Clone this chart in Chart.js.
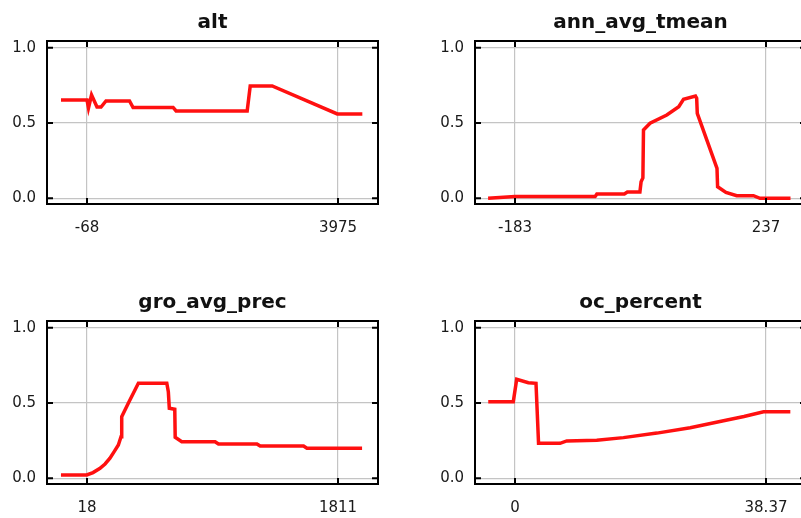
<!DOCTYPE html>
<html>
<head>
<meta charset="utf-8">
<script src="https://cdn.jsdelivr.net/npm/chart.js@4.4.0/dist/chart.umd.min.js"></script>
<style>
  body { margin: 0; width: 801px; height: 518px; overflow: hidden; background: #fff; position: relative; }
  canvas { position: absolute; }
</style>
</head>
<body>
<canvas id="c1" width="425" height="250" style="left:0;top:0"></canvas>
<canvas id="c2" width="425" height="250" style="left:428px;top:0"></canvas>
<canvas id="c3" width="425" height="250" style="left:0;top:280px"></canvas>
<canvas id="c4" width="425" height="250" style="left:428px;top:280px"></canvas>
<script>
// response curves
const altX = [-487, -68, -44, 5, 93, 158, 238, 617, 674, 1319, 1367, 2512, 2561, 2915, 3963, 4367];
const altY = [0.653, 0.653, 0.600, 0.686, 0.606, 0.606, 0.646, 0.646, 0.603, 0.603, 0.580, 0.580, 0.746, 0.746, 0.560, 0.560];
const altTicks = [-68, 3975];

const annX = [-228, -183, -49, -46, 0, 5, 26, 28, 31, 32, 43, 71, 91, 99, 119, 121, 122, 155, 156, 170, 188, 216, 227, 278];
const annY = [0.0, 0.011, 0.011, 0.029, 0.029, 0.042, 0.042, 0.110, 0.135, 0.454, 0.498, 0.553, 0.608, 0.657, 0.679, 0.665, 0.564, 0.199, 0.077, 0.039, 0.017, 0.017, 0.0, 0.0];
const annTicks = [-183, 237];

const groX = [-168, 16, 61, 111, 147, 182, 211, 242, 261, 266, 313, 385, 588, 599, 606, 645, 648, 695, 933, 957, 1232, 1255, 1565, 1589, 1983];
const groY = [0.022, 0.022, 0.038, 0.066, 0.095, 0.133, 0.175, 0.221, 0.276, 0.409, 0.498, 0.631, 0.631, 0.575, 0.465, 0.458, 0.272, 0.243, 0.243, 0.228, 0.228, 0.214, 0.214, 0.199, 0.199];
const groTicks = [18, 1811];

const ocX = [-4.09, -0.26, 0.26, 2.04, 3.21, 3.6, 6.89, 7.91, 12.5, 16.58, 21.69, 26.78, 31.88, 35.0, 38.0, 42.09];
const ocY = [0.509, 0.509, 0.657, 0.635, 0.631, 0.232, 0.232, 0.248, 0.252, 0.270, 0.300, 0.336, 0.382, 0.410, 0.442, 0.442];
const ocTicks = [0, 38.37];

const yTicks = [0, 0.5, 1.0];

// black box round the plot with short inward tick marks
const frame = {
    id: 'frame',
    afterDatasetsDraw(chart) {
        const {ctx, chartArea: a, scales: {x, y}} = chart;
        const len = 6;
        ctx.save();
        ctx.strokeStyle = '#000';
        ctx.lineWidth = 2;
        ctx.strokeRect(a.left, a.top, a.right - a.left, a.bottom - a.top);
        ctx.beginPath();
        x.ticks.forEach(t => {
            const px = x.getPixelForValue(t.value);
            ctx.moveTo(px, a.top); ctx.lineTo(px, a.top + len);
            ctx.moveTo(px, a.bottom); ctx.lineTo(px, a.bottom - len);
        });
        y.ticks.forEach(t => {
            const py = y.getPixelForValue(t.value);
            ctx.moveTo(a.left, py); ctx.lineTo(a.left + len, py);
            ctx.moveTo(a.right, py); ctx.lineTo(a.right - len, py);
        });
        ctx.stroke();
        ctx.restore();
    }
};

function makeChart(id, title, xs, ys, xTicks) {
    const span = xTicks[1] - xTicks[0];
    new Chart(document.getElementById(id), {
        type: 'line',
        data: {
            datasets: [{
                data: xs.map((v, i) => ({x: v, y: ys[i]})),
                borderColor: '#ff1010',
                borderWidth: 3.5,
                pointRadius: 0,
                tension: 0,
                fill: false
            }]
        },
        options: {
            responsive: false,
            animation: false,
            layout: {padding: {left: 0, right: 47, top: 0, bottom: 0}},
            plugins: {
                legend: {display: false},
                tooltip: {enabled: false},
                title: {
                    display: true,
                    fullSize: false,   // centre over the plot box
                    text: title,
                    color: '#111',
                    font: {family: 'DejaVu Sans', size: 20, weight: 'bold'},
                    padding: {top: 11, bottom: 6}
                }
            },
            scales: {
                x: {
                    type: 'linear',
                    min: xTicks[0] - span * 40 / 251,
                    max: xTicks[1] + span * 40 / 251,
                    afterBuildTicks: s => { s.ticks = xTicks.map(v => ({value: v})); },
                    afterFit: s => { s.height = 46; },
                    grid: {color: '#c4c4c4', lineWidth: 1.2, drawTicks: false},
                    border: {display: false},
                    ticks: {
                        autoSkip: false, maxRotation: 0, padding: 15,
                        color: '#1a1a1a',
                        font: {family: 'DejaVu Sans', size: 15},
                        callback: v => String(v)
                    }
                },
                y: {
                    min: -0.038,
                    max: 1.0445,
                    afterBuildTicks: s => { s.ticks = yTicks.map(v => ({value: v})); },
                    afterFit: s => { s.width = 47; },
                    grid: {color: '#c4c4c4', lineWidth: 1.2, drawTicks: false},
                    border: {display: false},
                    ticks: {
                        padding: 11,
                        color: '#1a1a1a',
                        font: {family: 'DejaVu Sans', size: 15},
                        callback: v => v.toFixed(1)
                    }
                }
            }
        },
        plugins: [frame]
    });
}

makeChart('c1', 'alt', altX, altY, altTicks);
makeChart('c2', 'ann_avg_tmean', annX, annY, annTicks);
makeChart('c3', 'gro_avg_prec', groX, groY, groTicks);
makeChart('c4', 'oc_percent', ocX, ocY, ocTicks);
</script>
</body>
</html>
